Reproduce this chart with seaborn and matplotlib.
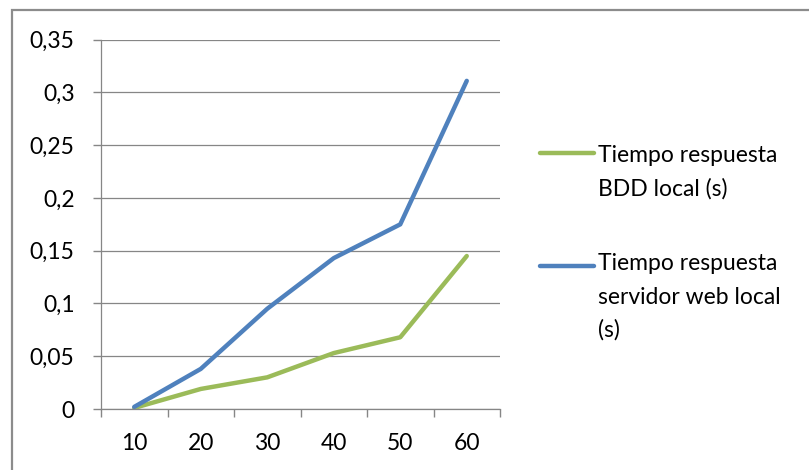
import numpy as np
import pandas as pd
import matplotlib
matplotlib.use("Agg")
import matplotlib.pyplot as plt
import seaborn as sns
from matplotlib.lines import Line2D
from matplotlib.patches import Rectangle

# Data
categories = ["10", "20", "30", "40", "50", "60"]
bdd_local = [0.001, 0.019, 0.030, 0.053, 0.068, 0.145]
web_local = [0.002, 0.038, 0.095, 0.143, 0.175, 0.311]
series_names = ["Tiempo respuesta\nBDD local (s)",
                "Tiempo respuesta\nservidor web local\n(s)"]
y_ticks = [0, 0.05, 0.10, 0.15, 0.20, 0.25, 0.30, 0.35]
y_tick_labels = ["0", "0,05", "0,1", "0,15", "0,2", "0,25", "0,3", "0,35"]

colors = ["#9BBB59", "#4F81BD"]
grey = "#868686"
W, H = 809, 470
FS = 16.5

sns.set_theme(style="white")
plt.rcParams["font.family"] = ["Lato", "DejaVu Sans"]

df = pd.DataFrame({
    "x": categories * 2,
    "tiempo": bdd_local + web_local,
    "serie": [series_names[0]] * len(categories) + [series_names[1]] * len(categories),
})

fig = plt.figure(figsize=(W / 100, H / 100), dpi=100)
ax = fig.add_axes([101 / W, 1 - 409 / H, 399 / W, (409 - 39.7) / H])

sns.lineplot(data=df, x="x", y="tiempo", hue="serie", hue_order=series_names,
             palette=colors, linewidth=3.2, legend=False, sort=False, ax=ax,
             solid_capstyle="round", solid_joinstyle="round")

# Category axis: ticks between categories, labels centred on them
n = len(categories)
ax.set_xlim(-0.5, n - 0.5)
ax.set_xticks(np.arange(-0.5, n), labels=[""] * (n + 1))
ax.set_xticks(np.arange(n), labels=categories, minor=True)
ax.tick_params(axis="x", which="major", bottom=True, length=5.5, width=1,
               color=grey, direction="out")
ax.tick_params(axis="x", which="minor", bottom=True, length=0, pad=17.5,
               labelsize=FS, labelcolor="black")

ax.set_ylim(0, 0.35)
ax.set_yticks(y_ticks, labels=y_tick_labels)
ax.tick_params(axis="y", left=True, length=5.5, width=1, color=grey,
               direction="out", pad=13.5, labelsize=FS, labelcolor="black")
ax.yaxis.grid(True, color=grey, linewidth=0.9)
ax.xaxis.grid(False)
ax.set_axisbelow(True)
ax.set_xlabel("")
ax.set_ylabel("")
for side in ("top", "right"):
    ax.spines[side].set_visible(False)
for side in ("left", "bottom"):
    ax.spines[side].set_color(grey)
    ax.spines[side].set_linewidth(0.9)

# Legend on the right, handle aligned with the first text line
legend_rows = [(153, 161.7), (266, 270)]
line_step = 33.5
for name, color, (ly, by) in zip(series_names, colors, legend_rows):
    fig.add_artist(Line2D([540 / W, 594 / W], [1 - ly / H] * 2,
                          transform=fig.transFigure, color=color,
                          linewidth=3.2, solid_capstyle="round"))
    for i, part in enumerate(name.split("\n")):
        fig.text(598 / W, 1 - (by + i * line_step) / H, part,
                 fontsize=FS, color="black", va="baseline", ha="left")

# Chart frame
fig.add_artist(Rectangle((12 / W, -0.5), 2, 1 - 10 / H + 0.5,
                         transform=fig.transFigure, fill=False,
                         edgecolor="#8C8C8C", linewidth=1.6, clip_on=False))

fig.savefig("out.png", dpi=100)
